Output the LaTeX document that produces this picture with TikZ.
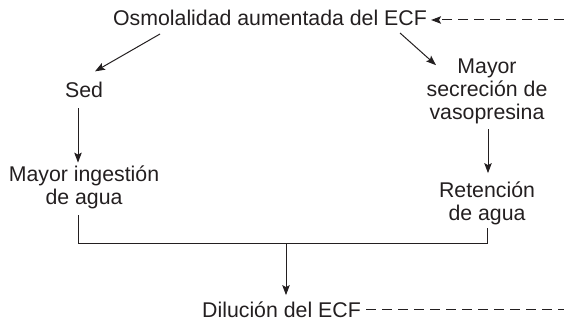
\documentclass[tikz,border=0pt]{standalone}
\usepackage{fontspec}
\setmainfont{Liberation Sans}
\usetikzlibrary{arrows.meta,calc}
\definecolor{ink}{HTML}{231F20}
\begin{document}
\begin{tikzpicture}[x=1pt,y=-1pt,
  lbl/.style={inner sep=0pt,anchor=base,align=center,text=ink,font=\fontsize{21.3}{23}\selectfont},
  conn/.style={draw=ink,line width=1pt},
  arr/.style={conn,-{Stealth[length=10pt,width=7.5pt,inset=2pt]}},
  dsh/.style={conn,dash pattern=on 10pt off 6pt}]
\useasboundingbox (0,0) rectangle (564,320);
\node[lbl] (osmo) at (270,26) {Osmolalidad aumentada del ECF};
\node[lbl] (sed) at (84,98) {Sed};
\node[lbl] (mayor) at (487,120) {Mayor\\secreción de\\vasopresina};
\node[lbl] (ing) at (84,205) {Mayor ingestión\\de agua};
\node[lbl] (ret) at (487,220) {Retención\\de agua};
\node[lbl] (dil) at (281.5,317) {Dilución del ECF};
\coordinate (rt) at (564,20);
\coordinate (rb) at (564,309);
\coordinate (join) at (286,243.5);
\draw[arr] ([xshift=-110pt,yshift=-8pt]osmo.base) -- ([xshift=11pt,yshift=11pt]sed.north);
\draw[arr] ([xshift=130pt,yshift=-7pt]osmo.base) -- ([xshift=-51pt,yshift=-6pt]mayor.north);
\draw[arr] ([xshift=-6pt,yshift=-10pt]sed.south) -- ([xshift=-6pt,yshift=3.5pt]ing.north);
\draw[arr] ([xshift=1pt,yshift=-4.5pt]mayor.south) -- ([xshift=1pt,yshift=8pt]ret.north);
\draw[conn] ([xshift=-6pt,yshift=-5.5pt]ing.south) |- (join) -| ([yshift=-3.5pt]ret.south);
\draw[arr] (join) -- ([xshift=4.5pt,yshift=6pt]dil.north);
\draw[dsh] ([xshift=5pt]dil.east) -- (dil.east -| rb);
\draw[dsh,-{Stealth[length=10pt,width=7.5pt,inset=2pt]}] (rt) -- ([xshift=4pt]osmo.east |- rt);
\end{tikzpicture}
\end{document}
